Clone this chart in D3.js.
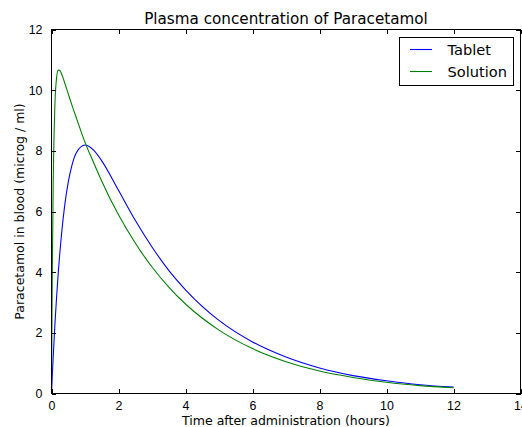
<!DOCTYPE html>
<html>
<head>
<meta charset="utf-8">
<title>Plasma concentration of Paracetamol</title>
<style>
  body { margin: 0; background: #fff; }
  svg { display: block; font-family: "DejaVu Sans", sans-serif; }
  .spine { fill: none; stroke: #000; stroke-width: 1; shape-rendering: crispEdges; }
  .tick line { stroke: #000; shape-rendering: crispEdges; }
  .tick text { font-size: 12.4px; fill: #000; }
  .line { fill: none; stroke-width: 1.1; }
</style>
</head>
<body>
<script src="https://cdn.jsdelivr.net/npm/d3@7"></script>
<script>
// hours after administration
var hours = [0, 0.02, 0.05, 0.1, 0.15, 0.2, 0.25, 0.3, 0.4, 0.5, 0.6, 0.75, 1, 1.25, 1.5,
             2, 2.5, 3, 3.5, 4, 5, 6, 7, 8, 9, 10, 11, 12];
// microg / ml
var tablet = [0, 0.50, 1.19, 2.24, 3.15, 3.96, 4.65, 5.26, 6.25, 6.97, 7.48, 7.95, 8.19, 8.03, 7.67,
              6.70, 5.71, 4.83, 4.06, 3.42, 2.41, 1.70, 1.20, 0.84, 0.59, 0.42, 0.29, 0.21];
var solution = [0, 3.52, 6.84, 9.46, 10.39, 10.66, 10.65, 10.54, 10.22, 9.88, 9.54, 9.06, 8.28, 7.63, 7.00,
                5.89, 4.96, 4.17, 3.51, 2.95, 2.09, 1.48, 1.05, 0.74, 0.53, 0.37, 0.26, 0.19];
var seriesNames = ["Tablet", "Solution"];
var seriesColours = ["#0000ff", "#008000"];
var xTicks = [0, 2, 4, 6, 8, 10, 12, 14];
var yTicks = [0, 2, 4, 6, 8, 10, 12];

var W = 522, H = 427;
var pLeft = 51.5, pRight = 520.5, pTop = 29.5, pBottom = 393.5;

var svg = d3.select("body").append("svg").attr("width", W).attr("height", H);

var x = d3.scaleLinear().domain([0, 14]).range([pLeft, pRight]);
var y = d3.scaleLinear().domain([0, 12]).range([pBottom, pTop]);

// clip for lines
svg.append("clipPath").attr("id", "plotclip")
  .append("rect").attr("x", pLeft).attr("y", pTop).attr("width", pRight - pLeft).attr("height", pBottom - pTop);

var series = [tablet, solution];
var line = d3.line()
  .x(function(d) { return x(d[0]); })
  .y(function(d) { return y(d[1]); })
  .curve(d3.curveMonotoneX);

series.forEach(function(vals, i) {
  var pts = hours.map(function(h, j) { return [h, vals[j]]; });
  svg.append("path").datum(pts)
    .attr("class", "line")
    .attr("clip-path", "url(#plotclip)")
    .attr("d", line)
    .style("stroke", seriesColours[i]);
});

// AXES (ticks inward, mirrored on top/right)
var tl = 4.5;
svg.append("g").attr("transform", "translate(0," + pBottom + ")")
  .call(d3.axisBottom(x).tickValues(xTicks).tickFormat(d3.format("d")).tickSizeInner(-tl).tickSizeOuter(0).tickPadding(8))
  .call(function(g) { g.select(".domain").remove(); });
svg.append("g").attr("transform", "translate(0," + pTop + ")")
  .call(d3.axisTop(x).tickValues(xTicks).tickFormat("").tickSizeInner(-tl).tickSizeOuter(0))
  .call(function(g) { g.select(".domain").remove(); });
svg.append("g").attr("transform", "translate(" + pLeft + ",0)")
  .call(d3.axisLeft(y).tickValues(yTicks).tickFormat(d3.format("d")).tickSizeInner(-tl).tickSizeOuter(0).tickPadding(9))
  .call(function(g) { g.select(".domain").remove(); });
svg.append("g").attr("transform", "translate(" + pRight + ",0)")
  .call(d3.axisRight(y).tickValues(yTicks).tickFormat("").tickSizeInner(-tl).tickSizeOuter(0))
  .call(function(g) { g.select(".domain").remove(); });

svg.append("rect").attr("class", "spine")
  .attr("x", pLeft).attr("y", pTop).attr("width", pRight - pLeft).attr("height", pBottom - pTop);

// TITLE + LABELS
svg.append("text").attr("x", (pLeft + pRight) / 2).attr("y", 24)
  .attr("text-anchor", "middle").style("font-size", "15.2px")
  .text("Plasma concentration of Paracetamol");
svg.append("text").attr("x", (pLeft + pRight) / 2).attr("y", 425)
  .attr("text-anchor", "middle").style("font-size", "12.5px")
  .text("Time after administration (hours)");
svg.append("text")
  .attr("transform", "translate(24," + ((pTop + pBottom) / 2) + ") rotate(-90)")
  .attr("text-anchor", "middle").style("font-size", "12.5px")
  .text("Paracetamol in blood (microg / ml)");

// LEGEND
var lg = svg.append("g");
lg.append("rect").attr("x", 399.5).attr("y", 37.5).attr("width", 114).attr("height", 48)
  .attr("fill", "#fff").attr("stroke", "#000").attr("stroke-width", 1).style("shape-rendering", "crispEdges");
seriesNames.forEach(function(name, i) {
  var yy = 49.5 + i * 22;
  lg.append("line").attr("x1", 410).attr("x2", 432).attr("y1", yy).attr("y2", yy)
    .attr("stroke", seriesColours[i]).attr("stroke-width", 1.1);
  lg.append("text").attr("x", 447.5).attr("y", yy).attr("dy", "0.36em")
    .style("font-size", "14.6px").text(name);
});
</script>
</body>
</html>
